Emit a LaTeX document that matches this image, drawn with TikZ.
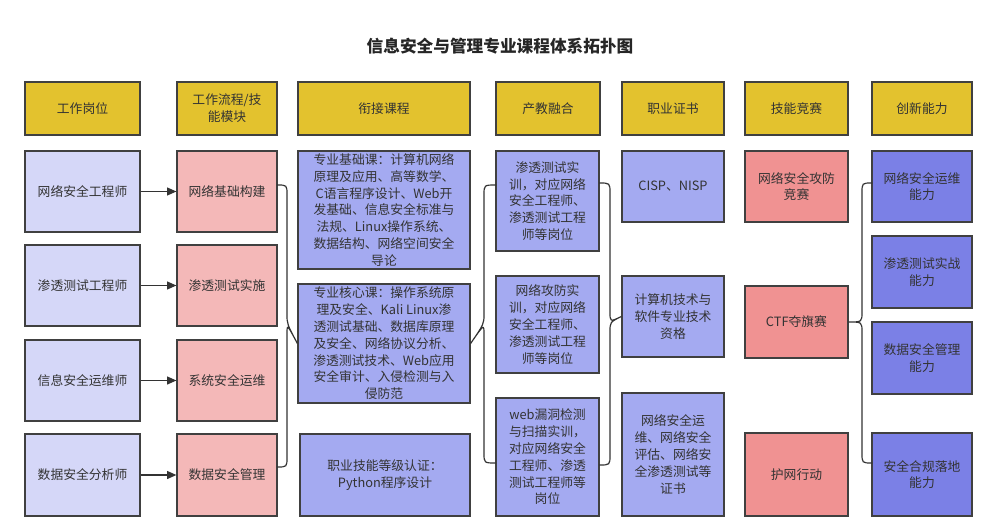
\documentclass[tikz,border=0pt]{standalone}
\usepackage{fontspec}
\setmainfont{Noto Sans CJK SC}
\usetikzlibrary{arrows.meta}
\begin{document}
\begin{tikzpicture}[x=0.75pt,y=-0.75pt,
  bx/.style={draw=black!75,line width=0.9pt,align=center,inner sep=0pt,font=\fontsize{9.6}{12.6}\selectfont,text=black!80},
  hd/.style={bx,fill=hdc},
  c1/.style={bx,fill=c1c},c2/.style={bx,fill=c2c},c3/.style={bx,fill=c3c},c6/.style={bx,fill=c6c},c7/.style={bx,fill=c7c},
  ar/.style={draw=black!80,line width=0.9pt,-{Triangle[length=7pt,width=6pt]}},
  br/.style={draw=black!80,line width=0.9pt}]
\definecolor{hdc}{HTML}{E3C22E}
\definecolor{c1c}{HTML}{D5D7F8}
\definecolor{c2c}{HTML}{F4B8B8}
\definecolor{c3c}{HTML}{A4AAF1}
\definecolor{c6c}{HTML}{F09292}
\definecolor{c7c}{HTML}{7B80E6}
\useasboundingbox (0,0) rectangle (1000,531);
\newcommand\bxat[6]{\node[#1,minimum width={(#4-#2)*0.75pt},minimum height={(#5-#3)*0.75pt}] (#6) at ({(#2+#4)/2},{(#3+#5)/2})}
\node[font=\bfseries\fontsize{12.5}{14}\selectfont,text=black!85] (title) at (500,46) {信息安全与管理专业课程体系拓扑图};
% headers
\bxat{hd}{25}{82}{140}{135}{h1}{工作岗位};
\bxat{hd}{177}{82}{277}{135}{h2}{工作流程/技\\能模块};
\bxat{hd}{298}{82}{470}{135}{h3}{衔接课程};
\bxat{hd}{496}{82}{600}{135}{h4}{产教融合};
\bxat{hd}{622}{82}{724}{135}{h5}{职业证书};
\bxat{hd}{745}{82}{848}{135}{h6}{技能竞赛};
\bxat{hd}{872}{82}{972}{135}{h7}{创新能力};
% col1
\bxat{c1}{25}{151}{140}{232}{a1}{网络安全工程师};
\bxat{c1}{25}{245}{140}{326}{a2}{渗透测试工程师};
\bxat{c1}{25}{340}{140}{421}{a3}{信息安全运维师};
\bxat{c1}{25}{434}{140}{516}{a4}{数据安全分析师};
% col2
\bxat{c2}{177}{151}{277}{232}{b1}{网络基础构建};
\bxat{c2}{177}{245}{277}{326}{b2}{渗透测试实施};
\bxat{c2}{177}{340}{277}{421}{b3}{系统安全运维};
\bxat{c2}{177}{434}{277}{516}{b4}{数据安全管理};
% col3
\bxat{c3}{298}{151}{470}{269}{k1}{专业基础课：计算机网络\\原理及应用、高等数学、\\C语言程序设计、Web开\\发基础、信息安全标准与\\法规、Linux操作系统、\\数据结构、网络空间安全\\导论};
\bxat{c3}{298}{284}{470}{403}{k2}{专业核心课：操作系统原\\理及安全、Kali Linux渗\\透测试基础、数据库原理\\及安全、网络协议分析、\\渗透测试技术、Web应用\\安全审计、入侵检测与入\\侵防范};
\bxat{c3}{300}{434}{470}{516}{k3}{职业技能等级认证：\\Python程序设计};
% col4
\bxat{c3}{496}{151}{599}{251}{d1}{渗透测试实\\训，对应网络\\安全工程师、\\渗透测试工程\\师等岗位};
\bxat{c3}{496}{276}{599}{373}{d2}{网络攻防实\\训，对应网络\\安全工程师、\\渗透测试工程\\师等岗位};
\bxat{c3}{496}{398}{599}{516}{d3}{web漏洞检测\\与扫描实训，\\对应网络安全\\工程师、渗透\\测试工程师等\\岗位};
% col5
\bxat{c3}{622}{151}{724}{222}{e1}{CISP、NISP};
\bxat{c3}{622}{276}{724}{357}{e2}{计算机技术与\\软件专业技术\\资格};
\bxat{c3}{622}{393}{724}{516}{e3}{网络安全运\\维、网络安全\\评估、网络安\\全渗透测试等\\证书};
% col6
\bxat{c6}{745}{151}{848}{222}{f1}{网络安全攻防\\竞赛};
\bxat{c6}{745}{286}{848}{358}{f2}{CTF夺旗赛};
\bxat{c6}{745}{433}{848}{516}{f3}{护网行动};
% col7
\bxat{c7}{872}{151}{972}{222}{g1}{网络安全运维\\能力};
\bxat{c7}{872}{236}{972}{308}{g2}{渗透测试实战\\能力};
\bxat{c7}{872}{322}{972}{394}{g3}{数据安全管理\\能力};
\bxat{c7}{872}{433}{972}{516}{g4}{安全合规落地\\能力};
% arrows
\foreach \i in {1,2,3,4} \draw[ar] (a\i) -- (b\i);
% brace 1
\coordinate (t1) at (277,185); \coordinate (u1) at (277,467);
\draw[br] (t1) .. controls (287,185) .. (287,195) -- (287,314) .. controls (287,324) .. (k2.west)
  .. controls (287,324) .. (287,334) -- (287,457) .. controls (287,467) .. (u1);
% brace 2
\coordinate (t2) at (496,185); \coordinate (u2) at (496,463);
\draw[br] (t2) .. controls (484,185) .. (484,195) -- (484,314) .. controls (484,324) .. (k2.east)
  .. controls (484,324) .. (484,334) -- (484,453) .. controls (484,463) .. (u2);
% brace 3
\coordinate (t3) at (599,183); \coordinate (u3) at (599,465);
\draw[br] (t3) .. controls (610,183) .. (610,193) -- (610,312) .. controls (610,322) .. (e2.west)
  .. controls (610,322) .. (610,332) -- (610,455) .. controls (610,465) .. (u3);
% brace 4
\coordinate (t4) at (872,183); \coordinate (u4) at (872,463);
\draw[br] (t4) .. controls (862,183) .. (862,193) -- (862,312) .. controls (862,322) .. (f2.east)
  .. controls (862,322) .. (862,332) -- (862,453) .. controls (862,463) .. (u4);
\end{tikzpicture}
\end{document}
